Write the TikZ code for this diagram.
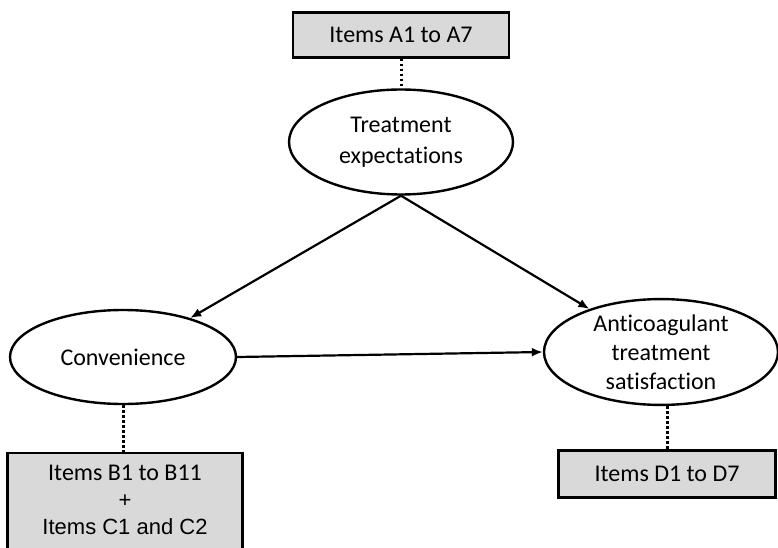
\documentclass[tikz,border=0pt]{standalone}
\usepackage{fontspec}
\setmainfont{Carlito}[Ligatures=NoCommon]
\newfontfamily\arialfont{Liberation Sans}
\usetikzlibrary{shapes.geometric,arrows.meta,positioning}

\begin{document}
\begin{tikzpicture}[
    x=1pt, y=-1pt,
    latent/.style={ellipse, draw, line width=2.4pt, inner sep=0pt, align=center,
        font=\fontsize{24}{31}\selectfont},
    items/.style={rectangle, draw, line width=2.2pt, fill=gray!30, align=center,
        font=\fontsize{24}{29}\selectfont},
    link/.style={line width=3pt, dash pattern=on 2.5pt off 2.5pt},
    arrow/.style={-{Latex[length=11pt,width=9pt]}, line width=2.2pt}
]
    \useasboundingbox (0,0) rectangle (778,548);
    \clip (0,0) rectangle (778,548);

    % Latent variables
    \node[latent, minimum width=224pt, minimum height=105pt] (te) at (401,142) {Treatment\\expectations};
    \node[latent, minimum width=226pt, minimum height=94pt] (conv) at (123,357) {Convenience};
    \node[latent, minimum width=234pt, minimum height=104pt] (acs) at (661,352) {Anticoagulant\\[-2pt]treatment\\[-2pt]satisfaction};

    % Item blocks
    \node[items, minimum width=216pt, minimum height=45pt] (itA) at (401,35) {Items A1 to A7};
    \node[items, minimum width=217pt, minimum height=47pt] (itD) at (667,474) {Items D1 to D7};
    \node[items, anchor=north, minimum width=235pt, inner ysep=12pt] (itBC) at (125,452)
        {Items B1 to B11\\[-2pt]{\arialfont\fontsize{22}{27}\selectfont +}\\[-2pt]{\arialfont\fontsize{22}{27}\selectfont Items C1 and C2}\\[6pt]};

    % Measurement links
    \draw[link] (itA) -- (te);
    \draw[link] (conv.south) -- (conv.south |- itBC.north);
    \draw[link] (acs.south -| itD.north) -- (itD.north);

    % Paths
    \draw[arrow] (te.south) -- (conv);
    \draw[arrow] (te.south) -- (acs);
    \draw[arrow] (conv.east) -- (acs.west);
\end{tikzpicture}
\end{document}
